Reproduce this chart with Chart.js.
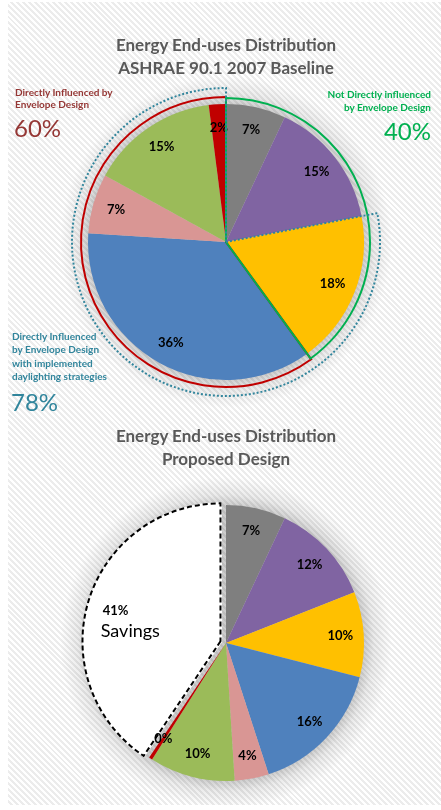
<!DOCTYPE html>
<html>
<head>
<meta charset="utf-8">
<title>Energy End-uses Distribution</title>
<script src="https://cdn.jsdelivr.net/npm/chart.js@4.4.0/dist/chart.umd.min.js"></script>
<style>
    html, body { margin: 0; padding: 0; background: #fff; }
    body { position: relative; width: 441px; height: 810px; overflow: hidden; font-family: Lato, 'Open Sans', sans-serif; }
    #panel {
        position: absolute; left: 8px; top: 2px; width: 433px; height: 803px;
        background:
            radial-gradient(circle at 218px 240px, rgba(0,0,0,0.20) 137px, rgba(0,0,0,0.08) 148px, rgba(0,0,0,0) 166px),
            radial-gradient(circle at 218px 641px, rgba(0,0,0,0.20) 137px, rgba(0,0,0,0.08) 148px, rgba(0,0,0,0) 166px),
            repeating-linear-gradient(45deg, #ffffff 0px, #ffffff 2.1px, #ececec 2.1px, #ececec 4.2px);
    }
    .box { position: absolute; left: 0; width: 441px; }
    .title { position: absolute; left: 26px; width: 400px; text-align: center; font-weight: bold; font-size: 17px; line-height: 23px; color: #595959; }
    .note { position: absolute; font-weight: bold; font-size: 10px; }
    .big { position: absolute; font-size: 24px; line-height: 24px; }
</style>
</head>
<body>
<div id="panel"></div>

<div class="box" style="top:0;height:410px"><canvas id="baselineChart"></canvas></div>
<div class="box" style="top:410px;height:400px"><canvas id="proposedChart"></canvas></div>

<div class="title" style="top:33px">Energy End-uses Distribution<br>ASHRAE 90.1 2007 Baseline</div>
<div class="title" style="top:424px">Energy End-uses Distribution<br>Proposed Design</div>

<div class="note" id="g0" style="left:15px;top:86px;line-height:12px;color:#953735"></div>
<div class="big" id="p0" style="left:14px;top:116px;color:#953735"></div>

<div class="note" id="g1" style="right:10px;top:88px;line-height:13px;color:#00b050;text-align:right"></div>
<div class="big" id="p1" style="right:10px;top:119px;color:#00b050"></div>

<div class="note" id="g2" style="left:12px;top:330px;line-height:13.3px;color:#31859c"></div>
<div class="big" id="p2" style="left:11px;top:390px;color:#31859c"></div>

<script>
// 基準ケース (ASHRAE 90.1 2007) — 時計回り、12時の位置から
const baselineUses = ['End-use 1', 'End-use 2', 'End-use 3', 'End-use 4', 'End-use 5', 'End-use 6', 'End-use 7'];
const baselineShares = [7, 15, 18, 36, 7, 15, 2];

// 提案ケース
const proposedUses = ['End-use 1', 'End-use 2', 'End-use 3', 'End-use 4', 'End-use 5', 'End-use 6', 'End-use 7', 'Savings'];
const proposedShares = [7, 12, 10, 16, 4, 10, 0.4, 40.6];

// 外周リングのグループ (スライス番号の範囲)
const groupNames = [
    'Directly Influenced by<br>Envelope Design',
    'Not Directly influenced<br>by Envelope Design',
    'Directly Influenced<br>by Envelope Design<br>with implemented<br>daylighting strategies'
];
const groupSlices = [[3, 6], [0, 2], [2, 6]];
const groupShares = ['60%', '40%', '78%'];

const sliceColors = ['#7f7f7f', '#8064a2', '#ffc000', '#4f81bd', '#d99694', '#9bbb59', '#c00000', '#ffffff'];

groupNames.forEach(function(name, i) {
    document.getElementById('g' + i).innerHTML = name;
    document.getElementById('p' + i).textContent = groupShares[i];
});

// offset付きスライスの平行移動量 (ArcElement.draw と同じ計算)
function arcShift(arc) {
    const mid = (arc.startAngle + arc.endAngle) / 2;
    const off = (arc.options.offset || 0) / 4;
    const fix = 1 - Math.sin(Math.min(Math.PI, arc.circumference || 0));
    const total = off * (1 + fix);
    return { x: Math.cos(mid) * total, y: Math.sin(mid) * total };
}

// パーセント表示
const sliceLabels = {
    id: 'sliceLabels',
    afterDatasetsDraw(chart, args, opts) {
        const ctx = chart.ctx;
        const meta = chart.getDatasetMeta(0);
        const data = chart.data.datasets[0].data;
        const labels = chart.data.labels;
        ctx.save();
        ctx.fillStyle = '#000';
        ctx.textBaseline = 'middle';
        meta.data.forEach(function(arc, i) {
            const mid = (arc.startAngle + arc.endAngle) / 2;
            const s = arcShift(arc);
            const pct = Math.round(data[i]) + '%';
            if (labels[i] === 'Savings') {
                const r = arc.outerRadius * 0.68;
                const x = arc.x + s.x + Math.cos(mid) * r;
                const y = arc.y + s.y + Math.sin(mid) * r;
                ctx.textAlign = 'left';
                ctx.font = 'bold 13px Lato';
                ctx.fillText(pct, x - 28, y - 3);
                ctx.font = '18px Lato';
                ctx.fillText('Savings', x - 30, y + 17);
                return;
            }
            const r = arc.outerRadius * opts.ratio;
            ctx.textAlign = 'center';
            ctx.font = 'bold 13px Lato';
            ctx.fillText(pct, arc.x + s.x + Math.cos(mid) * r, arc.y + s.y + Math.sin(mid) * r);
        });
        ctx.restore();
    }
};

// グループの扇形の枠線
const groupRings = {
    id: 'groupRings',
    afterDatasetsDraw(chart, args, opts) {
        if (!opts.rings) return;
        const ctx = chart.ctx;
        const meta = chart.getDatasetMeta(0);
        opts.rings.forEach(function(ring) {
            const first = meta.data[ring.slices[0]];
            const last = meta.data[ring.slices[1]];
            const a0 = first.startAngle;
            const a1 = last.endAngle;
            const cx = first.x, cy = first.y;
            const r = first.outerRadius + ring.gap;
            ctx.save();
            ctx.strokeStyle = ring.color;
            ctx.lineWidth = ring.width;
            ctx.setLineDash(ring.dash || []);
            ctx.beginPath();
            ctx.moveTo(cx, cy);
            ctx.lineTo(cx + Math.cos(a0) * r, cy + Math.sin(a0) * r);
            ctx.arc(cx, cy, r, a0, a1);
            ctx.closePath();
            ctx.stroke();
            ctx.restore();
        });
    }
};

// 削減分スライスの破線
const sliceOutline = {
    id: 'sliceOutline',
    afterDatasetsDraw(chart, args, opts) {
        if (opts.index === undefined) return;
        const ctx = chart.ctx;
        const arc = chart.getDatasetMeta(0).data[opts.index];
        const s = arcShift(arc);
        const cx = arc.x + s.x, cy = arc.y + s.y;
        const r = arc.outerRadius;
        ctx.save();
        ctx.strokeStyle = opts.color;
        ctx.lineWidth = opts.width;
        ctx.setLineDash(opts.dash);
        ctx.lineJoin = 'miter';
        ctx.beginPath();
        ctx.moveTo(cx, cy);
        ctx.lineTo(cx + Math.cos(arc.startAngle) * r, cy + Math.sin(arc.startAngle) * r);
        ctx.arc(cx, cy, r, arc.startAngle, arc.endAngle);
        ctx.closePath();
        ctx.stroke();
        ctx.restore();
    }
};

function pieOptions(padding, extra) {
    return {
        responsive: true,
        maintainAspectRatio: false,
        animation: false,
        events: [],
        radius: 138,
        layout: { padding: padding },
        plugins: Object.assign({
            legend: { display: false },
            tooltip: { enabled: false },
            sliceLabels: { ratio: 0.83 }
        }, extra)
    };
}

new Chart(document.getElementById('baselineChart'), {
    type: 'pie',
    data: {
        labels: baselineUses,
        datasets: [{
            data: baselineShares,
            backgroundColor: sliceColors.slice(0, 7),
            borderWidth: 0
        }]
    },
    options: pieOptions({ top: 100, bottom: 26, left: 11, right: 0 }, {
        groupRings: {
            rings: [
                { slices: groupSlices[0], gap: 7, color: '#c00000', width: 2 },
                { slices: groupSlices[1], gap: 6, color: '#00b050', width: 2 },
                { slices: groupSlices[2], gap: 16, color: '#31859c', width: 2, dash: [2, 2] }
            ]
        }
    }),
    plugins: [sliceLabels, groupRings]
});

new Chart(document.getElementById('proposedChart'), {
    type: 'pie',
    data: {
        labels: proposedUses,
        datasets: [{
            data: proposedShares,
            backgroundColor: sliceColors,
            borderWidth: 0,
            offset: [0, 0, 0, 0, 0, 0, 0, 16]
        }]
    },
    options: pieOptions({ top: 100, bottom: 34, left: 11, right: 0 }, {
        sliceOutline: { index: 7, color: '#000', width: 2, dash: [5, 3] }
    }),
    plugins: [sliceLabels, sliceOutline]
});
</script>
</body>
</html>
